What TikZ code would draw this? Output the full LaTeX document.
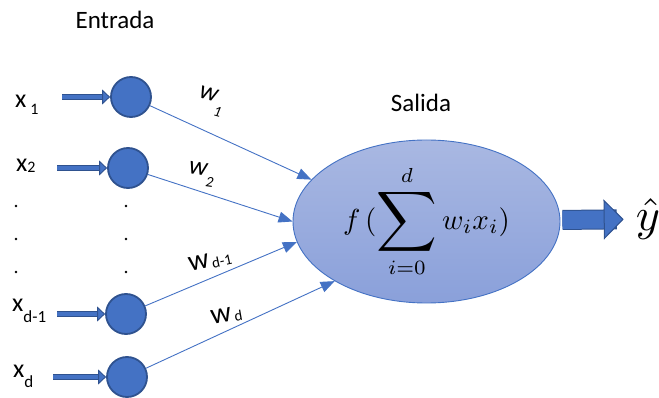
\documentclass[tikz,border=0pt]{standalone}
\usepackage{fontspec}
\setmainfont{Carlito}
\usepackage{graphicx}
\usetikzlibrary{positioning, arrows.meta, shapes.geometric}

\definecolor{nodeblue}{HTML}{4472C4}
\definecolor{edgeblue}{HTML}{2F528F}
\definecolor{ovaltop}{HTML}{A9B8E2}
\definecolor{ovalbottom}{HTML}{8AA0DA}

% lowered small text for the indices
\newcommand{\lowsub}[3][17]{\raisebox{-#2}{\fontsize{#1}{#1}\selectfont #3}}

\begin{document}
\begin{tikzpicture}
    [
        x=1pt, y=-1pt,
        neuron/.style={draw=edgeblue, fill=nodeblue, circle, line width=1.8pt, minimum size=40pt, inner sep=0pt},
        inarrow/.style={draw=nodeblue, line width=3.4pt,
            -{Triangle[length=8pt, width=15pt, color=edgeblue, fill=nodeblue, line width=0.9pt]},
            preaction={-, draw=edgeblue, line width=5.4pt, shorten >=7pt}},
        outarrow/.style={draw=nodeblue, line width=18pt,
            -{Triangle[length=20pt, width=40pt, color=edgeblue, fill=nodeblue, line width=1pt]},
            preaction={-, draw=edgeblue, line width=20pt, shorten >=19pt}},
        wline/.style={draw=nodeblue, line width=0.9pt, -{Triangle[length=14pt, width=11pt]}},
        oval/.style={ellipse, draw=nodeblue, line width=0.9pt, top color=ovaltop, bottom color=ovalbottom,
            minimum width=267pt, minimum height=163pt, inner sep=0pt},
        lbl/.style={inner sep=0pt, anchor=base west, font=\fontsize{26}{26}\selectfont},
        wlbl/.style={inner sep=0pt, anchor=base west, font=\fontsize{26}{26}\selectfont}
    ]
        \useasboundingbox (0,0) rectangle (659,398);
        % =========================================================================
        % NODES
        % =========================================================================
        % --- Input column ---
        \node [neuron] (n1) at (131,97) {};
        \node [neuron] (n2) at (128,168) {};
        \node [neuron] (nd1) at (126,314) {};
        \node [neuron] (nd) at (127,377) {};
        % --- Input labels ---
        \node [lbl] (x1) at (15,108) {x\hspace{4pt}\lowsub[16]{7pt}{1}};
        \node [lbl] (x2) at (16,172) {x\lowsub[16]{1pt}{2}};
        \node [lbl] (xd1) at (12,312) {x\lowsub{10pt}{d-1}};
        \node [lbl] (xd) at (13,377) {x\lowsub{10pt}{d}};
        \coordinate (a1) at (62,97);
        \coordinate (a2) at (57,168);
        \coordinate (ad1) at (57,314);
        \coordinate (ad) at (53,377);
        % --- Output ---
        \node [oval] (out) at (426.5,221.5)
            {\scalebox{2.9}{$f\,(\mathop{\vcenter{\hbox{\scalebox{1.45}{$\displaystyle\sum$}}}}\limits_{i=0}^{d} w_i x_i)$}};
        \node [inner sep=0pt] (yhat) at (648,219) {\scalebox{4.6}{$\hat{y}$}};
        % --- Titles ---
        \node [font=\fontsize{25}{25}\selectfont] (entrada) at (115,20) {Entrada};
        \node [font=\fontsize{25}{25}\selectfont] (salida) at (421,103) {Salida};
        % --- Weights ---
        \node [wlbl, rotate=-15] (w1) at (198,97) {\itshape w\lowsub[15]{14pt}{1}};
        \node [wlbl, rotate=-8] (w2) at (188,173) {\itshape w\lowsub[15]{11pt}{2}};
        \node [wlbl, rotate=12, font=\fontsize{29}{29}\selectfont] (wd1) at (190,272) {w\lowsub[15]{1pt}{\,d-1}};
        \node [wlbl, rotate=10, font=\fontsize{29}{29}\selectfont] (wd) at (212,325) {w\lowsub[15]{1pt}{\,d}};

        % =========================================================================
        % PATHS
        % =========================================================================
        % --- Inputs ---
        \draw [inarrow] (a1) -- (n1);
        \draw [inarrow] (a2) -- (n2);
        \draw [inarrow] (ad1) -- (nd1);
        \draw [inarrow] (ad) -- (nd);
        % --- Dots ---
        \foreach \y in {206,239,272} {
            \fill (16,\y) circle (1.3);
            \fill (126,\y) circle (1.3);
        }
        % --- Weighted links ---
        \draw [wline] (n1) -- (out.160);
        \draw [wline] (n2) -- (out.180);
        \draw [wline] (nd1) -- (out.189);
        \draw [wline] (nd) -- (out.213);
        % --- Output ---
        \draw [outarrow, shorten <=2pt, shorten >=12pt] (out) -- (yhat);
\end{tikzpicture}
\end{document}
